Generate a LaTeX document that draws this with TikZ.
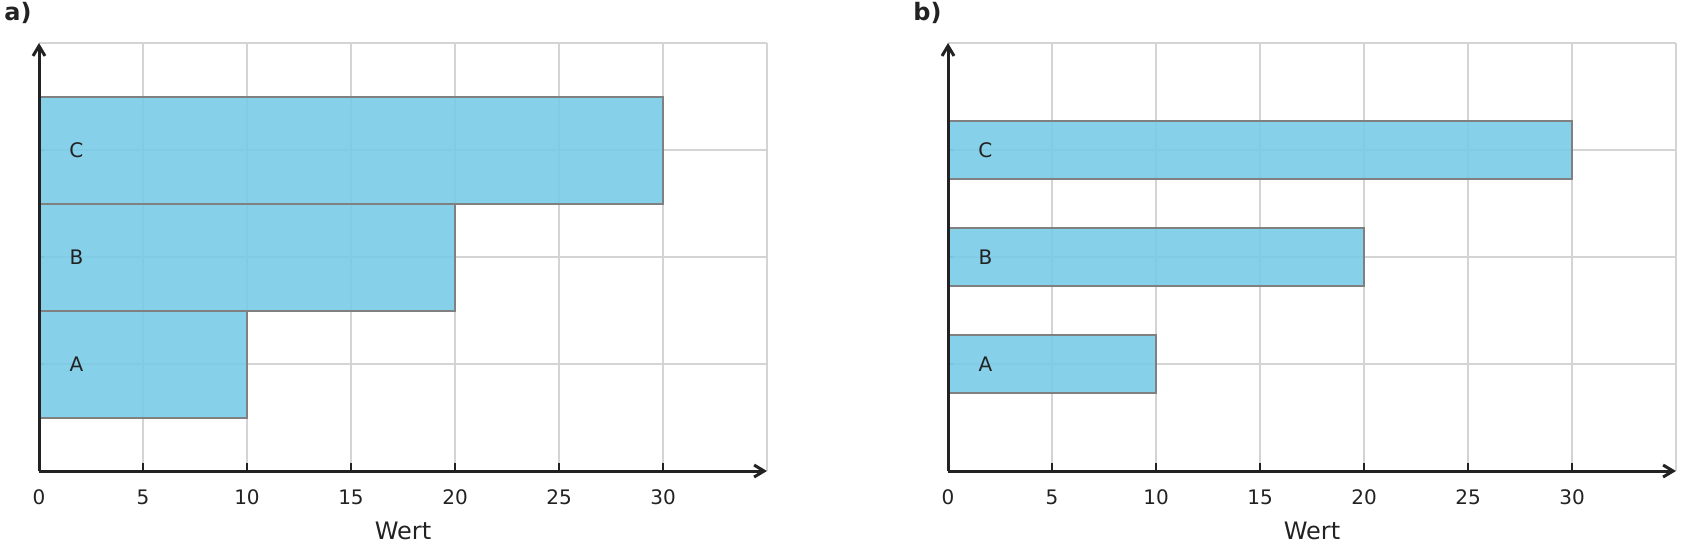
\documentclass[tikz,border=0pt]{standalone}
\usepackage{fontspec}
\setmainfont{DejaVu Sans}
\usetikzlibrary{arrows.meta}
\definecolor{barblue}{HTML}{7ACBE7}
\definecolor{gridgray}{HTML}{D4D4D4}
\definecolor{axisdark}{HTML}{222222}
\definecolor{barline}{HTML}{808080}

\begin{document}
\begin{tikzpicture}
    [
        x=0.5pt, y=-0.5pt,
        font=\fontsize{10}{12}\selectfont,
        grid/.style  ={draw=gridgray, line width=0.75pt},
        axis/.style  ={draw=axisdark, line width=1.5pt,
                       -{Straight Barb[length=5pt,width=6pt]}},
        xtick/.style ={draw=axisdark, line width=1.2pt},
        ytick/.style ={draw=barline, line width=1pt},
        bar/.style   ={draw=barline, line width=1pt, fill=barblue,
                       fill opacity=0.9},
        cat/.style   ={text=axisdark},
        num/.style   ={text=axisdark, yshift=-13.3pt},
        xlab/.style  ={text=axisdark, yshift=-30pt,
                       font=\fontsize{12}{14}\selectfont},
        panel/.style ={anchor=base west, inner sep=0pt, text=axisdark,
                       font=\bfseries\fontsize{12}{14}\selectfont}
    ]
    \useasboundingbox (0,0) rectangle (1681,548);

    % panel a: wide bars
    \node[panel]    (pa)    at (4,20)       {a)};
    \begin{scope}[shift={(39,471)}, x=10.4pt, y=53.5pt]
        \foreach \v in {5,10,...,35}
            \draw[grid] (\v,0) -- (\v,4);
        \foreach \c in {1,2,3,4}
            \draw[grid] (0,\c) -- (35,\c);
        \foreach \c in {1,2,3}
            \draw[ytick] (0,\c) -- ++(2.5pt,0pt);

        \draw[bar] (0,0.5) rectangle (10,1.5);
        \draw[bar] (0,1.5) rectangle (20,2.5);
        \draw[bar] (0,2.5) rectangle (30,3.5);

        \node[cat]  (aA)    at (1.8,1)      {A};
        \node[cat]  (aB)    at (1.8,2)      {B};
        \node[cat]  (aC)    at (1.8,3)      {C};

        \foreach \v in {0,5,...,30}
        {
            \draw[xtick] (\v,0) -- ++(0pt,4pt);
            \node[num]  (at\v)  at (\v,0)   {\v};
        }
        \coordinate (ax0)   at (0,0);
        \coordinate (axx)   at (35,0);
        \coordinate (axy)   at (0,4);
        \draw[axis] (ax0) -- (axx);
        \draw[axis] (ax0) -- (axy);
        \node[xlab] (awert) at (17.5,0)     {Wert};
    \end{scope}

    % panel b: narrow bars
    \node[panel]    (pb)    at (913,20)     {b)};
    \begin{scope}[shift={(948,471)}, x=10.4pt, y=53.5pt]
        \foreach \v in {5,10,...,35}
            \draw[grid] (\v,0) -- (\v,4);
        \foreach \c in {1,2,3,4}
            \draw[grid] (0,\c) -- (35,\c);
        \foreach \c in {1,2,3}
            \draw[ytick] (0,\c) -- ++(2.5pt,0pt);

        \draw[bar] (0,0.725) rectangle (10,1.275);
        \draw[bar] (0,1.725) rectangle (20,2.275);
        \draw[bar] (0,2.725) rectangle (30,3.275);

        \node[cat]  (bA)    at (1.8,1)      {A};
        \node[cat]  (bB)    at (1.8,2)      {B};
        \node[cat]  (bC)    at (1.8,3)      {C};

        \foreach \v in {0,5,...,30}
        {
            \draw[xtick] (\v,0) -- ++(0pt,4pt);
            \node[num]  (bt\v)  at (\v,0)   {\v};
        }
        \coordinate (bx0)   at (0,0);
        \coordinate (bxx)   at (35,0);
        \coordinate (bxy)   at (0,4);
        \draw[axis] (bx0) -- (bxx);
        \draw[axis] (bx0) -- (bxy);
        \node[xlab] (bwert) at (17.5,0)     {Wert};
    \end{scope}
\end{tikzpicture}
\end{document}
